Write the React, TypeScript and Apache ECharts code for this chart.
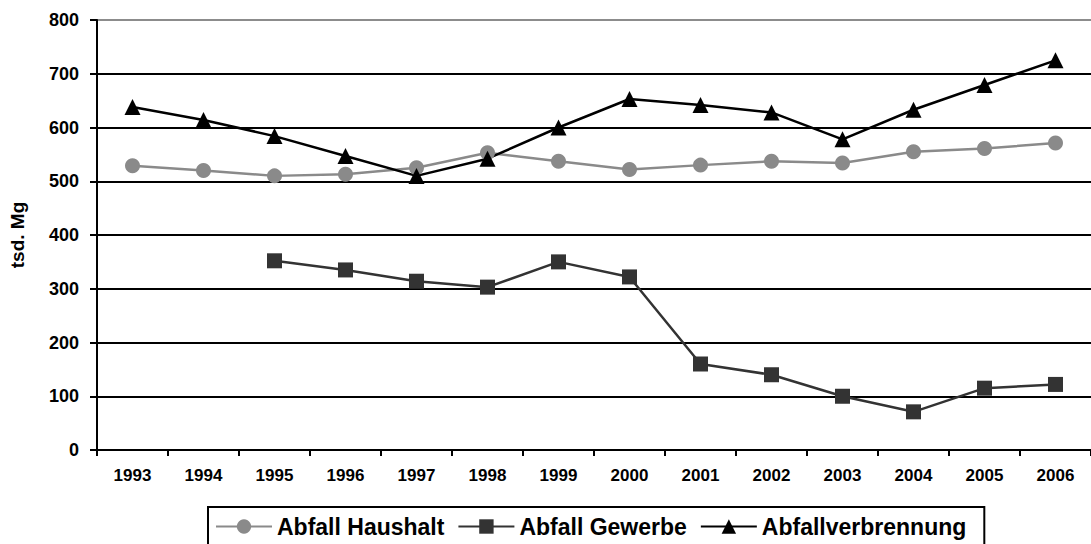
import React, { useEffect, useRef } from "react";
import * as echarts from "echarts";

const years = ["1993","1994","1995","1996","1997","1998","1999","2000","2001","2002","2003","2004","2005","2006"];
const haushalt = [529, 520, 510, 513, 525, 553, 537, 522, 530, 537, 534, 555, 561, 571];
const gewerbe: (number | null)[] = [null, null, 352, 335, 314, 303, 350, 322, 160, 140, 100, 71, 115, 122];
const verbrennung = [638, 614, 584, 547, 510, 542, 600, 653, 642, 628, 578, 633, 679, 725];

const FONT = "'Liberation Sans', Arial, sans-serif";

export default function App() {
  const ref = useRef<HTMLDivElement>(null);
  useEffect(() => {
    const chart = echarts.init(ref.current!, null, { renderer: "svg" });
    const gridColors = ["#000", "#000", "#000", "#000", "#000", "#000", "#000", "#000", "#8c8c8c"];
    chart.setOption({
      animation: false,
      backgroundColor: "#fff",
      textStyle: { fontFamily: FONT },
      grid: { left: 95, top: 20, bottom: 94, right: -8 },
      legend: {
        left: 208,
        top: 507,
        orient: "horizontal",
        borderColor: "#000",
        borderWidth: 2,
        padding: [8, 18, 20, 7],
        itemGap: 13,
        itemWidth: 56,
        itemHeight: 18,
        textStyle: { fontFamily: FONT, fontWeight: "bold", fontSize: 23, color: "#000" },
        data: ["Abfall Haushalt", "Abfall Gewerbe", "Abfallverbrennung"],
      },
      xAxis: {
        type: "category",
        data: years,
        boundaryGap: true,
        axisLine: { lineStyle: { color: "#000", width: 2 } },
        axisTick: { show: true, length: 6, lineStyle: { color: "#000", width: 2 } },
        axisLabel: { color: "#000", fontWeight: "bold", fontSize: 17, fontFamily: FONT, margin: 17 },
        splitLine: { show: false },
      },
      yAxis: {
        type: "value",
        min: 0,
        max: 800,
        interval: 100,
        name: "tsd. Mg",
        nameLocation: "middle",
        nameGap: 70,
        nameRotate: 90,
        nameTextStyle: { color: "#000", fontWeight: "bold", fontSize: 19, fontFamily: FONT },
        axisLine: { show: true, lineStyle: { color: "#000", width: 2 } },
        axisTick: { show: true, length: 7, lineStyle: { color: "#000", width: 2 } },
        axisLabel: { color: "#000", fontWeight: "bold", fontSize: 18, fontFamily: FONT, margin: 18 },
        splitLine: { show: true, lineStyle: { color: gridColors, width: 2 } },
      },
      series: [
        {
          name: "Abfall Haushalt",
          type: "line",
          data: haushalt,
          symbol: "circle",
          symbolSize: 15,
          itemStyle: { color: "#8a8a8a" },
          lineStyle: { color: "#8a8a8a", width: 2.5 },
        },
        {
          name: "Abfall Gewerbe",
          type: "line",
          data: gewerbe,
          symbol: "rect",
          symbolSize: 15,
          itemStyle: { color: "#333333" },
          lineStyle: { color: "#333333", width: 2.5 },
        },
        {
          name: "Abfallverbrennung",
          type: "line",
          data: verbrennung,
          symbol: "triangle",
          symbolSize: 16,
          itemStyle: { color: "#000" },
          lineStyle: { color: "#000", width: 2.5 },
        },
      ],
    });
    return () => chart.dispose();
  }, []);
  return (
    <div
      ref={ref}
      style={{ position: "fixed", left: 0, top: 0, width: 1091, height: 544, background: "#fff" }}
    />
  );
}
